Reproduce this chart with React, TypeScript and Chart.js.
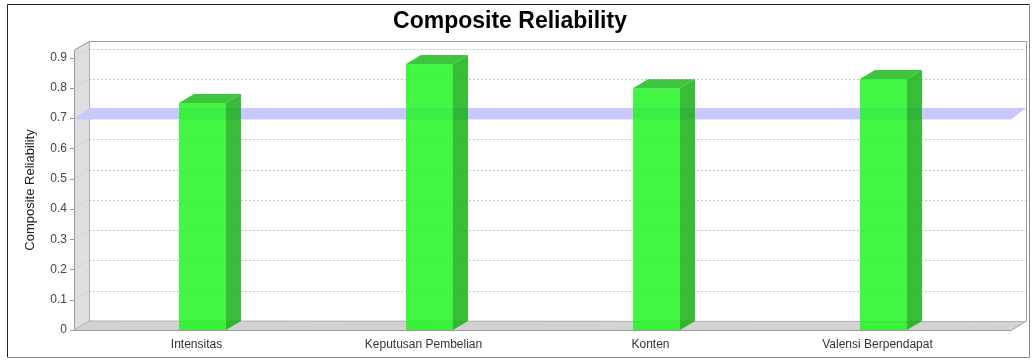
import React, { useEffect, useRef } from "react";
import { Chart, registerables } from "chart.js";

Chart.register(...registerables);

const chartTitle = "Composite Reliability";
const yAxisTitle = "Composite Reliability";
const categories = ["Intensitas", "Keputusan Pembelian", "Konten", "Valensi Berpendapat"];
const reliability = [0.75, 0.879, 0.799, 0.829];
const thresholdValue = 0.7;
const yMin = 0;
const yMax = 0.925;
const yStep = 0.1;

const FONT = "'Liberation Sans', Arial, Helvetica, sans-serif";
const DX = 15;
const DY = 9;
const RIGHT_EXT = 14;

const threeDPlugin = {
  id: "threeD",
  beforeDraw(chart: any) {
    const ctx = chart.ctx;
    ctx.save();
    ctx.fillStyle = "#ffffff";
    ctx.fillRect(0, 0, chart.width, chart.height);
    ctx.lineWidth = 1;
    ctx.strokeStyle = "#222";
    ctx.beginPath();
    ctx.moveTo(7.5, 357.5);
    ctx.lineTo(7.5, 4.5);
    ctx.lineTo(1029.5, 4.5);
    ctx.stroke();
    ctx.strokeStyle = "#888";
    ctx.beginPath();
    ctx.moveTo(1029.5, 4.5);
    ctx.lineTo(1029.5, 357.5);
    ctx.lineTo(7.5, 357.5);
    ctx.stroke();
    ctx.restore();
  },
  beforeDatasetsDraw(chart: any) {
    const ctx = chart.ctx;
    const ca = chart.chartArea;
    const ys = chart.scales.y;
    const fl = ca.left - DX;
    const fr = ca.right + RIGHT_EXT;
    const top = ca.top;
    const bottom = ys.getPixelForValue(yMin);
    const bl = fl + DX;
    const br = fr + DX;
    const bt = top - DY;
    const bb = bottom - DY;
    ctx.save();
    ctx.lineWidth = 1;

    // back wall grid lines
    ctx.strokeStyle = "#c4c4c4";
    ctx.setLineDash([2, 2]);
    ys.ticks.forEach((t: any) => {
      if (t.value === yMin) return;
      const y = Math.round(ys.getPixelForValue(t.value) - DY) + 0.5;
      ctx.beginPath();
      ctx.moveTo(bl, y);
      ctx.lineTo(br, y);
      ctx.stroke();
    });
    ctx.setLineDash([]);

    // left wall
    ctx.fillStyle = "#dedede";
    ctx.beginPath();
    ctx.moveTo(fl, top);
    ctx.lineTo(bl, bt);
    ctx.lineTo(bl, bb);
    ctx.lineTo(fl, bottom);
    ctx.closePath();
    ctx.fill();

    // slanted grid lines on the left wall + tick marks
    ys.ticks.forEach((t: any) => {
      const y = ys.getPixelForValue(t.value);
      ctx.strokeStyle = "#c8c8c8";
      ctx.setLineDash([2, 2]);
      ctx.beginPath();
      ctx.moveTo(fl, y);
      ctx.lineTo(bl, y - DY);
      ctx.stroke();
      ctx.setLineDash([]);
      ctx.strokeStyle = "#999";
      ctx.beginPath();
      ctx.moveTo(fl - 4, Math.round(y) + 0.5);
      ctx.lineTo(fl, Math.round(y) + 0.5);
      ctx.stroke();
    });

    // floor
    ctx.fillStyle = "#d2d2d2";
    ctx.beginPath();
    ctx.moveTo(fl, bottom);
    ctx.lineTo(bl, bb);
    ctx.lineTo(br, bb);
    ctx.lineTo(fr, bottom);
    ctx.closePath();
    ctx.fill();

    // outlines
    ctx.strokeStyle = "#9a9a9a";
    ctx.beginPath();
    ctx.moveTo(fl + 0.5, bottom);
    ctx.lineTo(fl + 0.5, top);
    ctx.lineTo(bl + 0.5, bt + 0.5);
    ctx.lineTo(br + 0.5, bt + 0.5);
    ctx.lineTo(br + 0.5, bb);
    ctx.lineTo(fr, bottom + 0.5);
    ctx.lineTo(fl, bottom + 0.5);
    ctx.stroke();
    ctx.strokeStyle = "#b0b0b0";
    ctx.beginPath();
    ctx.moveTo(bl + 0.5, bt);
    ctx.lineTo(bl + 0.5, bb);
    ctx.lineTo(br, bb + 0.5);
    ctx.moveTo(bl, bb);
    ctx.lineTo(fl, bottom);
    ctx.stroke();

    // threshold plane at 0.7
    const y7 = ys.getPixelForValue(thresholdValue);
    ctx.fillStyle = "rgb(200,200,255)";
    ctx.beginPath();
    ctx.moveTo(fl, y7 + 1.5);
    ctx.lineTo(bl, y7 - DY - 1);
    ctx.lineTo(br, y7 - DY - 1);
    ctx.lineTo(fr, y7 + 1.5);
    ctx.closePath();
    ctx.fill();
    ctx.restore();
  },
  afterDatasetsDraw(chart: any) {
    const ctx = chart.ctx;
    const meta = chart.getDatasetMeta(0);
    ctx.save();
    meta.data.forEach((el: any) => {
      const { x, y, base, width } = el.getProps(["x", "y", "base", "width"], true);
      const l = x - width / 2;
      const r = x + width / 2;
      // side face
      ctx.fillStyle = "rgba(22,178,22,0.85)";
      ctx.beginPath();
      ctx.moveTo(r, y);
      ctx.lineTo(r + DX, y - DY);
      ctx.lineTo(r + DX, base - DY);
      ctx.lineTo(r, base);
      ctx.closePath();
      ctx.fill();
      // top face
      ctx.fillStyle = "rgba(28,186,28,0.85)";
      ctx.beginPath();
      ctx.moveTo(l, y);
      ctx.lineTo(l + DX, y - DY);
      ctx.lineTo(r + DX, y - DY);
      ctx.lineTo(r, y);
      ctx.closePath();
      ctx.fill();
    });
    ctx.restore();
  },
};

export default function App() {
  const ref = useRef<HTMLCanvasElement>(null);
  useEffect(() => {
    if (!ref.current) return;
    const chart = new Chart(ref.current, {
      type: "bar",
      data: {
        labels: categories,
        datasets: [
          {
            label: yAxisTitle,
            data: reliability,
            backgroundColor: "rgba(34,245,34,0.85)",
            borderWidth: 0,
            barPercentage: 0.207,
            categoryPercentage: 1,
          },
        ],
      },
      options: {
        responsive: false,
        animation: false,
        layout: { padding: { left: 23, right: 37, top: 0, bottom: 0 } },
        plugins: {
          legend: { display: false },
          tooltip: { enabled: false },
          title: {
            display: true,
            text: chartTitle,
            color: "#000",
            font: { size: 23, weight: "bold", family: FONT },
            padding: { top: 8, bottom: 14.4 },
          },
        },
        scales: {
          x: {
            offset: true,
            grid: { display: false, drawTicks: false },
            border: { display: false },
            ticks: {
              padding: 7,
              labelOffset: -6,
              color: "#333",
              font: { size: 12, family: FONT },
              maxRotation: 0,
              autoSkip: false,
            },
            afterFit: (s: any) => {
              s.height = 31;
            },
          },
          y: {
            min: yMin,
            max: yMax,
            grid: { display: false, drawTicks: false },
            border: { display: false },
            ticks: {
              stepSize: yStep,
              includeBounds: false,
              padding: 22,
              color: "#444",
              font: { size: 12, family: FONT },
              callback: (v: any) => String(Number(Number(v).toFixed(1))),
            },
            title: {
              display: true,
              text: yAxisTitle,
              color: "#222",
              font: { size: 13, family: FONT },
              padding: { top: 0, bottom: 0 },
            },
            afterFit: (s: any) => {
              s.width = 66;
            },
          },
        },
      } as any,
      plugins: [threeDPlugin],
    });
    return () => chart.destroy();
  }, []);
  return (
    <div style={{ position: "absolute", left: 0, top: 0, width: 1034, height: 361 }}>
      <canvas ref={ref} width={1034} height={361} style={{ display: "block", width: 1034, height: 361 }} />
    </div>
  );
}
